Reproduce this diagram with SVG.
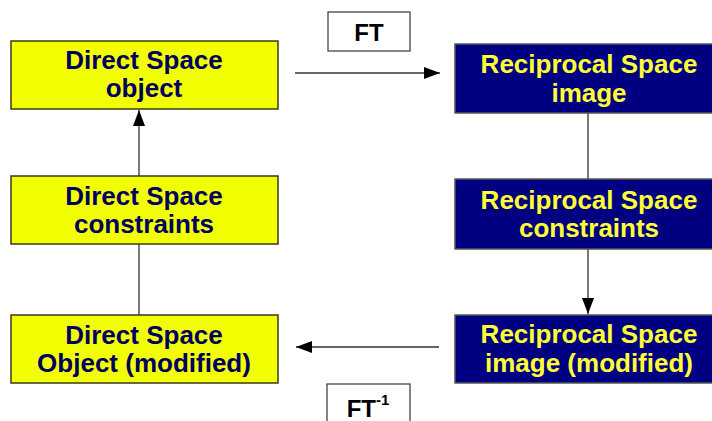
<svg xmlns="http://www.w3.org/2000/svg" width="712" height="421" viewBox="0 0 712 421">
<defs>
<style>
.ybox{fill:#f2ff00;stroke:#3a3a1a;stroke-width:1.5}
.bbox{fill:#000080;stroke:#555;stroke-width:1.5}
.yt{font-family:"Liberation Sans",Arial,sans-serif;font-weight:bold;font-size:26px;fill:#000060;text-anchor:middle}
.bt{font-family:"Liberation Sans",Arial,sans-serif;font-weight:bold;font-size:26px;fill:#ffff33;text-anchor:middle}
.lbl{fill:#fff;stroke:#444;stroke-width:1.3}
.lt{font-family:"Liberation Sans",Arial,sans-serif;font-weight:bold;font-size:24px;fill:#000;text-anchor:middle}
.ln{stroke:#333;stroke-width:1.3;fill:none}
</style>
<marker id="ah" viewBox="0 0 16 12" refX="16" refY="6" markerWidth="16" markerHeight="12" markerUnits="userSpaceOnUse" orient="auto">
<path d="M0,0 L16,6 L0,12 z" fill="#000"/>
</marker>
</defs>
<rect width="712" height="421" fill="#fff"/>
<g id="connectors">
<line class="ln" x1="295" y1="73" x2="440" y2="73" marker-end="url(#ah)"/>
<line class="ln" x1="439" y1="347" x2="296" y2="347" marker-end="url(#ah)"/>
<line class="ln" x1="139" y1="176" x2="139" y2="110" marker-end="url(#ah)"/>
<line class="ln" x1="139" y1="315" x2="139" y2="244"/>
<line class="ln" x1="588" y1="113" x2="588" y2="179"/>
<line class="ln" x1="588" y1="249" x2="588" y2="314" marker-end="url(#ah)"/>
</g>
<g id="ft">
<rect class="lbl" x="328" y="12" width="82" height="39"/>
<text class="lt" x="369" y="41">FT</text>
</g>
<g id="ftinv">
<rect class="lbl" x="327" y="384" width="83" height="45"/>
<text class="lt" x="368" y="417" font-size="25">FT<tspan font-size="15" dy="-12">-1</tspan></text>
</g>
<g id="ds-object">
<rect class="ybox" x="11" y="41" width="267" height="68"/>
<text class="yt" x="144" y="69">Direct Space</text>
<text class="yt" x="144" y="97">object</text>
</g>
<g id="ds-constraints">
<rect class="ybox" x="11" y="176" width="267" height="68"/>
<text class="yt" x="144" y="205">Direct Space</text>
<text class="yt" x="144" y="233">constraints</text>
</g>
<g id="ds-modified">
<rect class="ybox" x="11" y="315" width="267" height="68"/>
<text class="yt" x="144" y="344">Direct Space</text>
<text class="yt" x="144" y="372">Object (modified)</text>
</g>
<g id="rs-image">
<rect class="bbox" x="455" y="44" width="270" height="69"/>
<text class="bt" x="589" y="73">Reciprocal Space</text>
<text class="bt" x="589" y="102">image</text>
</g>
<g id="rs-constraints">
<rect class="bbox" x="455" y="179" width="270" height="70"/>
<text class="bt" x="589" y="209">Reciprocal Space</text>
<text class="bt" x="589" y="237">constraints</text>
</g>
<g id="rs-modified">
<rect class="bbox" x="455" y="315" width="270" height="68"/>
<text class="bt" x="589" y="343">Reciprocal Space</text>
<text class="bt" x="589" y="372">image (modified)</text>
</g>
</svg>
